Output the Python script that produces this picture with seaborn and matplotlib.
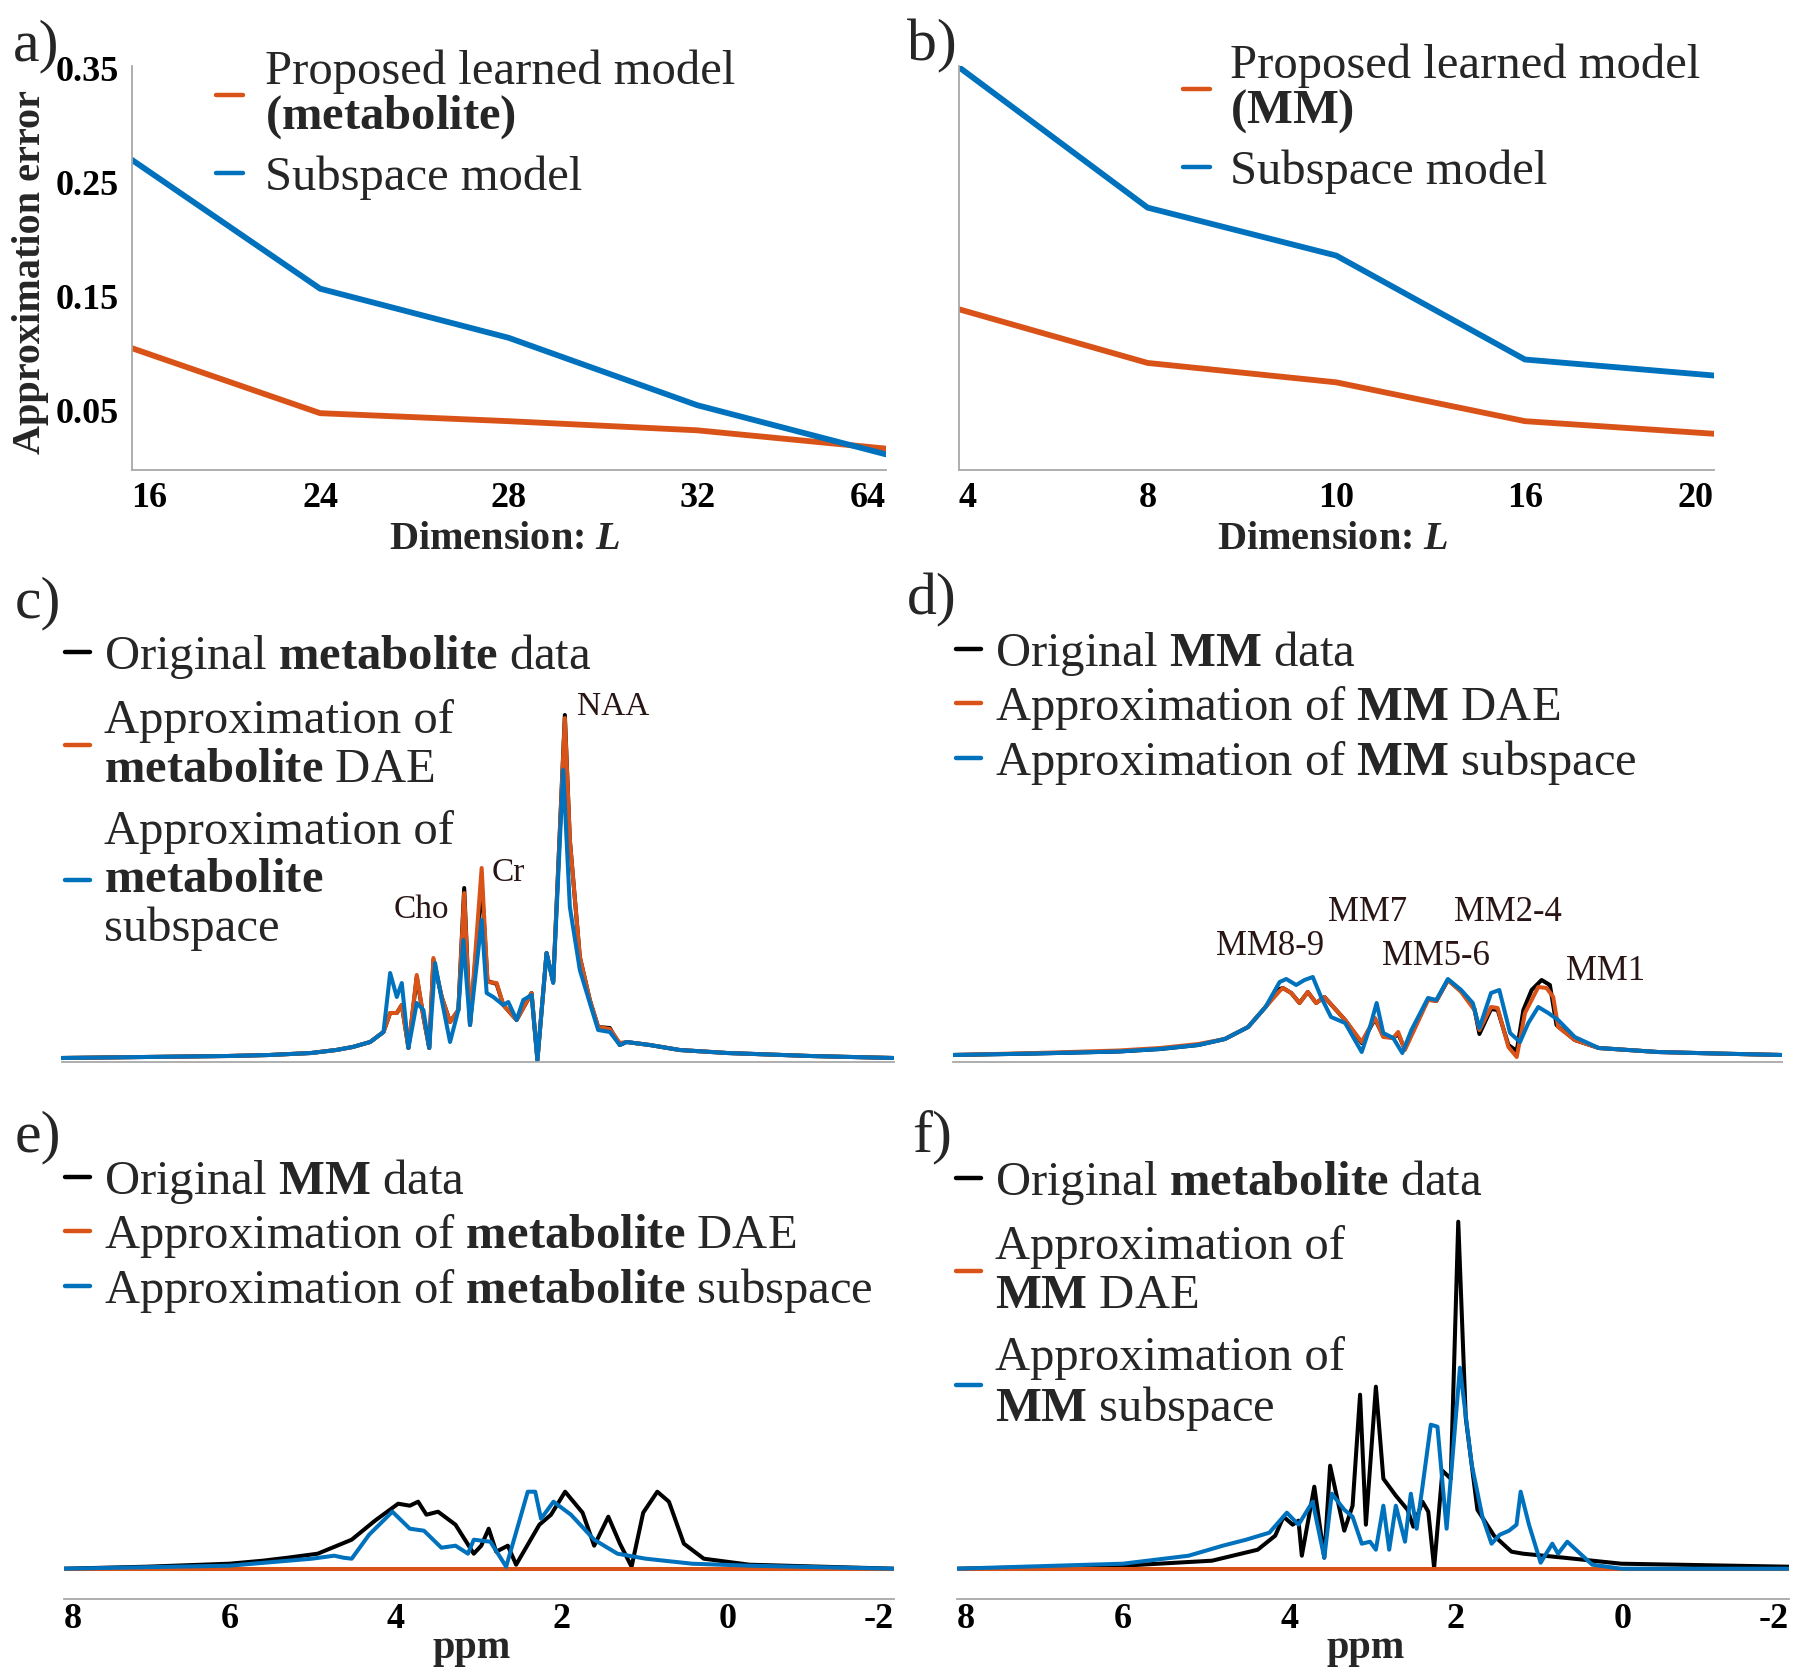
import matplotlib
matplotlib.use("Agg")
import matplotlib.pyplot as plt
import seaborn as sns
import pandas as pd

ORANGE = "#D95319"
BLUE = "#0072BD"
BLACK = "#000000"
GREY = "#a8a8a8"
ANNOT = "#2a1515"

# ---- a) / b) approximation error vs dimension L
dims_a = ["16", "24", "28", "32", "64"]
err_a_dae = [0.105, 0.048, 0.041, 0.033, 0.017]
err_a_sub = [0.270, 0.157, 0.114, 0.055, 0.012]

dims_b = ["4", "8", "10", "16", "20"]
err_b_dae = [0.139, 0.092, 0.075, 0.041, 0.030]
err_b_sub = [0.351, 0.228, 0.186, 0.095, 0.081]

err_ticks = [0.05, 0.15, 0.25, 0.35]
err_tick_labels = ["0.05", "0.15", "0.25", "0.35"]

# ---- c) metabolite spectrum (ppm, intensity a.u.)
c_ppm_orig = [8.0, 7.0, 6.0, 5.5, 5.0, 4.7, 4.5, 4.29, 4.13, 4.05, 3.97, 3.91, 3.83, 3.73, 3.65, 3.58,
              3.53, 3.43, 3.33, 3.23, 3.16, 3.09, 2.95, 2.88, 2.77, 2.69, 2.53, 2.35, 2.28, 2.17, 2.09,
              1.95, 1.89, 1.77, 1.65, 1.55, 1.41, 1.29, 1.21, 0.93, 0.57, 0.0, -1.0, -2.0]
c_orig = [1, 2, 3, 4, 6, 9, 12, 17, 27, 46, 46, 54, 11, 82, 42, 11, 99, 62, 37, 49, 171, 34, 176, 78,
          75, 54, 39, 66, -1, 106, 77, 344, 219, 102, 59, 32, 31, 14, 17, 14, 9, 6, 3, 1]
c_ppm_dae = [8.0, 7.0, 6.0, 5.5, 5.0, 4.7, 4.5, 4.29, 4.13, 4.05, 3.97, 3.91, 3.83, 3.73, 3.65, 3.58,
             3.53, 3.43, 3.33, 3.23, 3.16, 3.09, 2.95, 2.88, 2.77, 2.69, 2.53, 2.35, 2.28, 2.17, 2.09,
             1.95, 1.89, 1.77, 1.65, 1.55, 1.41, 1.29, 1.21, 0.93, 0.57, 0.0, -1.0, -2.0]
c_dae = [1, 2, 3, 4, 6, 9, 12, 17, 27, 46, 46, 54, 11, 84, 42, 11, 101, 62, 37, 49, 166, 34, 191, 77,
         76, 54, 39, 66, -1, 106, 77, 341, 219, 102, 59, 32, 30, 16, 17, 14, 9, 6, 3, 1]
c_ppm_sub = [8.0, 7.0, 6.0, 5.5, 5.0, 4.7, 4.5, 4.29, 4.13, 4.05, 3.97, 3.91, 3.83, 3.73, 3.65, 3.58,
             3.51, 3.43, 3.33, 3.23, 3.17, 3.09, 2.95, 2.89, 2.81, 2.69, 2.63, 2.53, 2.45, 2.35, 2.28,
             2.17, 2.09, 1.97, 1.89, 1.77, 1.65, 1.55, 1.41, 1.29, 1.21, 0.93, 0.57, 0.0, -1.0, -2.0]
c_sub = [1, 2, 3, 4, 6, 9, 12, 17, 27, 86, 62, 76, 11, 56, 49, 11, 96, 59, 17, 49, 119, 34, 139, 66,
         62, 54, 57, 39, 59, 64, -1, 106, 76, 289, 152, 89, 56, 29, 27, 14, 17, 14, 9, 6, 3, 1]
c_peaks = ["Cho", "Cr", "NAA"]
c_peak_ppm = [3.67, 2.63, 1.37]
c_peak_h = [149, 186, 352]

# ---- d) MM spectrum
d_ppm_orig = [8.0, 7.0, 6.0, 5.5, 5.04, 4.72, 4.44, 4.23, 4.06, 4.02, 3.92, 3.82, 3.72, 3.62, 3.52,
              3.27, 3.07, 2.91, 2.81, 2.69, 2.63, 2.55, 2.27, 2.17, 2.03, 1.87, 1.71, 1.65, 1.51, 1.43,
              1.30, 1.20, 1.12, 1.02, 0.90, 0.80, 0.72, 0.50, 0.21, -0.5, -1.2, -2.0]
d_orig = [0, 1.5, 3.5, 6, 10, 16, 28, 48, 66, 67, 62, 52, 63, 52, 58, 35, 12, 36, 19, 17, 21, 6, 56,
          54, 75, 64, 46, 21, 46, 45, 10, 4, 45, 65, 75, 70, 30, 15, 7, 3, 1.5, 0]
d_ppm_dae = [8.0, 7.0, 6.0, 5.5, 5.04, 4.72, 4.44, 4.23, 4.06, 4.02, 3.92, 3.82, 3.72, 3.62, 3.52,
             3.27, 3.07, 2.91, 2.81, 2.69, 2.63, 2.55, 2.27, 2.17, 2.03, 1.87, 1.71, 1.65, 1.51, 1.43,
             1.30, 1.20, 1.10, 0.94, 0.84, 0.76, 0.70, 0.50, 0.21, -0.5, -1.2, -2.0]
d_dae = [0, 2, 4.5, 7, 11, 16, 28, 48, 64, 67, 62, 52, 63, 52, 58, 35, 13, 37, 18, 17, 23, 5, 55, 54,
         75, 63, 45, 25, 48, 47, 8, -2, 42, 68, 67, 58, 28, 15, 7, 3, 1.5, 0]
d_ppm_sub = [8.0, 7.0, 6.0, 5.5, 5.04, 4.72, 4.44, 4.23, 4.06, 3.98, 3.86, 3.76, 3.66, 3.56, 3.44,
             3.27, 3.07, 2.97, 2.89, 2.81, 2.69, 2.58, 2.47, 2.27, 2.17, 2.03, 1.87, 1.73, 1.65, 1.51,
             1.41, 1.28, 1.16, 1.06, 0.94, 0.82, 0.70, 0.50, 0.21, -0.5, -1.2, -2.0]
d_sub = [0, 1.5, 3.5, 6, 10, 16, 28, 48, 73, 76, 70, 75, 78, 58, 38, 32, 3, 28, 52, 22, 17, 2, 25, 57,
         55, 76, 65, 52, 27, 62, 65, 22, 13, 32, 48, 42, 35, 18, 7, 3, 1.5, 0]
d_peaks = ["MM8-9", "MM7", "MM5-6", "MM2-4", "MM1"]
d_peak_ppm = [4.18, 3.00, 2.17, 1.31, 0.13]
d_peak_h = [108, 142, 98, 142, 83]

# ---- e) MM data through metabolite models
e_ppm_orig = [8.0, 7.0, 6.0, 5.6, 5.3, 4.94, 4.53, 4.25, 3.97, 3.83, 3.73, 3.63, 3.49, 3.28, 3.06, 2.97,
              2.88, 2.79, 2.65, 2.55, 2.27, 2.13, 1.96, 1.75, 1.61, 1.44, 1.30, 1.16, 1.02, 0.85, 0.71,
              0.53, 0.29, -0.26, -2.0]
e_orig = [0, 2, 5, 8, 11, 15, 29, 48, 65, 63, 67, 54, 57, 44, 15, 23, 40, 17, 23, 4, 44, 54, 77, 56,
          23, 52, 25, 2, 56, 77, 67, 25, 10, 4, 0]
e_ppm_dae = [8.0, -2.0]
e_dae = [0, 0]
e_ppm_sub = [8.0, 6.0, 5.01, 4.74, 4.63, 4.53, 4.32, 4.04, 3.83, 3.66, 3.45, 3.28, 3.13, 3.06, 2.86,
             2.67, 2.51, 2.41, 2.32, 2.25, 2.10, 1.89, 1.61, 1.33, 0.99, 0.43, -0.26, -2.0]
e_sub = [0, 3, 10, 13, 11, 10, 34, 57, 40, 38, 21, 23, 15, 29, 27, 2, 48, 77, 77, 50, 67, 54, 29, 15,
         10, 5, 3, 0]

# ---- f) metabolite data through MM models
f_ppm_orig = [8.0, 6.0, 4.93, 4.38, 4.17, 4.07, 3.96, 3.89, 3.85, 3.70, 3.58, 3.51, 3.34, 3.24, 3.15,
              3.08, 2.96, 2.87, 2.72, 2.58, 2.51, 2.40, 2.33, 2.26, 2.16, 2.06, 1.97, 1.88, 1.74, 1.54,
              1.33, 1.19, 0.70, 0.01, -2.0]
f_orig = [0, 3, 8, 19, 33, 52, 44, 48, 13, 82, 11, 103, 38, 63, 174, 44, 182, 90, 73, 59, 42, 67, 57,
          1, 98, 90, 347, 151, 59, 33, 17, 15, 11, 5, 2]
f_ppm_dae = [8.0, -2.0]
f_dae = [0, 0]
f_ppm_sub = [8.0, 6.0, 5.21, 4.80, 4.52, 4.24, 4.03, 3.89, 3.72, 3.58, 3.49, 3.34, 3.24, 3.13, 3.03,
             2.96, 2.87, 2.80, 2.72, 2.61, 2.54, 2.47, 2.40, 2.30, 2.22, 2.11, 1.95, 1.81, 1.68, 1.57,
             1.47, 1.36, 1.27, 1.22, 1.12, 0.98, 0.84, 0.77, 0.66, 0.36, 0.01, -2.0]
f_sub = [0, 5, 13, 23, 29, 36, 56, 44, 67, 11, 75, 59, 52, 25, 27, 19, 63, 19, 63, 27, 75, 40, 82,
         144, 142, 40, 201, 105, 52, 25, 34, 38, 44, 77, 44, 6, 25, 15, 27, 4, 0, 0]

ppm_ticks = [8, 6, 4, 2, 0, -2]
ppm_tick_labels = ["8", "6", "4", "2", "0", "-2"]

sns.set_style("white")
plt.rcParams["font.family"] = ["Liberation Serif", "DejaVu Serif"]
plt.rcParams["mathtext.fontset"] = "custom"
plt.rcParams["mathtext.rm"] = "Liberation Serif"
plt.rcParams["mathtext.bf"] = "Liberation Serif:bold"
plt.rcParams["mathtext.it"] = "Liberation Serif:italic"
plt.rcParams["mathtext.bfit"] = "Liberation Serif:bold:italic"

W, H = 1800, 1678
fig = plt.figure(figsize=(W / 100, H / 100), dpi=100)


def box(left, right, top, bottom):
    return [left / W, 1 - bottom / H, (right - left) / W, (bottom - top) / H]


LEG_FS = 35
TICK_FS = 26
LABEL_FS = 29


def style_axis(ax, left_spine, pad):
    for s in ["top", "right"]:
        ax.spines[s].set_visible(False)
    ax.spines["left"].set_visible(left_spine)
    for s in ["left", "bottom"]:
        ax.spines[s].set_color(GREY)
        ax.spines[s].set_linewidth(1.3)
    ax.tick_params(direction="in", length=7, width=1.3, color=GREY, labelcolor="black",
                   labelsize=TICK_FS, pad=pad)
    ax.set_xlabel("")
    ax.set_ylabel("")
    ax.grid(False)


def edge_align(labels):
    labels[0].set_ha("left")
    labels[-1].set_ha("right")


def add_legend(ax, x, y, hlen, hpad, lspace, linesp):
    leg = ax.legend(loc="upper left", bbox_to_anchor=(x / W, 1 - y / H), bbox_transform=fig.transFigure,
                    frameon=False, fontsize=LEG_FS, borderpad=0, borderaxespad=0,
                    handlelength=hlen, handletextpad=hpad, labelspacing=lspace)
    for ln in leg.get_lines():
        ln.set_linewidth(3.2)
    for t in leg.get_texts():
        t.set_linespacing(linesp)
    return leg


# ---------- a) and b)
def error_panel(pos, dims, dae, sub, dae_label, show_ylabels, leg_xy, hpad):
    ax = fig.add_axes(pos)
    df = pd.DataFrame({"L": dims, "dae": dae, "sub": sub})
    sns.lineplot(data=df, x="L", y="dae", color=ORANGE, linewidth=4.2, ax=ax, label=dae_label,
                 sort=False, estimator=None)
    sns.lineplot(data=df, x="L", y="sub", color=BLUE, linewidth=4.2, ax=ax, label="Subspace model",
                 sort=False, estimator=None)
    style_axis(ax, True, 9)
    ax.set_xlim(0, len(dims) - 1)
    ax.set_ylim(-0.0014, 0.352)
    ax.set_xticks(range(len(dims)))
    ax.set_xticklabels(dims, fontweight="bold")
    edge_align(ax.get_xticklabels())
    ax.set_yticks(err_ticks)
    if show_ylabels:
        ax.set_yticklabels(err_tick_labels, fontweight="bold")
        ax.set_ylabel("Approximation error", fontsize=LABEL_FS, fontweight="bold")
        ax.yaxis.set_label_coords(-0.109, 0.49)
    else:
        ax.set_yticklabels([])
    ax.set_xlabel(r"Dimension: $\mathbfit{L}$", fontsize=LABEL_FS, fontweight="bold")
    ax.xaxis.set_label_coords(0.495, -0.128)
    add_legend(ax, leg_xy[0], leg_xy[1], 0.55, hpad, 0.3, 0.95)
    return ax


error_panel(box(131.6, 885.7, 66, 469.6), dims_a, err_a_dae, err_a_sub,
            "Proposed learned model\n" + r"$\mathbf{(metabolite)}$", True, (216, 50), 0.45)
error_panel(box(958.9, 1713.6, 66, 469.6), dims_b, err_b_dae, err_b_sub,
            "Proposed learned model\n" + r"$\mathbf{(MM)}$", False, (1183, 44), 0.42)


# ---------- c) to f) spectra
def spectrum_panel(pos, ylim, curves, labels, leg_xy, lspace, tick_labels):
    ax = fig.add_axes(pos)
    for (xs, ys, col), lab in zip(curves, labels):
        sns.lineplot(x=xs, y=ys, color=col, linewidth=2.9, ax=ax, label=lab, sort=False,
                     estimator=None)
    style_axis(ax, False, 3)
    ax.set_xlim(8, -2)
    ax.set_ylim(*ylim)
    ax.set_yticks([])
    ax.set_xticks(ppm_ticks)
    if tick_labels:
        ax.set_xticklabels(ppm_tick_labels, fontweight="bold")
        edge_align(ax.get_xticklabels())
        ax.set_xlabel("ppm", fontsize=LABEL_FS, fontweight="bold")
        ax.xaxis.set_label_coords(0.492, -0.072)
    else:
        ax.set_xticklabels([])
    add_legend(ax, leg_xy[0], leg_xy[1], 0.52, 0.28, lspace, 1.12)
    return ax


mb = r"$\mathbf{metabolite}$"
mm = r"$\mathbf{MM}$"

ax_c = spectrum_panel(box(61.5, 893.5, 625, 1062), (-3, 434),
                      [(c_ppm_orig, c_orig, BLACK), (c_ppm_dae, c_dae, ORANGE), (c_ppm_sub, c_sub, BLUE)],
                      ["Original " + mb + " data", "Approximation of\n" + mb + " DAE",
                       "Approximation of\n" + mb + "\nsubspace"], (65, 632), 0.38, False)
for name, px, ph in zip(c_peaks, c_peak_ppm, c_peak_h):
    ax_c.text(px, ph, name, fontsize=24, color=ANNOT, ha="center", va="center")

ax_d = spectrum_panel(box(953, 1782, 625, 1061.7), (-6.7, 430),
                      [(d_ppm_orig, d_orig, BLACK), (d_ppm_dae, d_dae, ORANGE), (d_ppm_sub, d_sub, BLUE)],
                      ["Original " + mm + " data", "Approximation of " + mm + " DAE",
                       "Approximation of " + mm + " subspace"], (956, 629), 0.12, False)
for name, px, ph in zip(d_peaks, d_peak_ppm, d_peak_h):
    ax_d.text(px, ph, name, fontsize=25, color=ANNOT, ha="center", va="center")

spectrum_panel(box(63.5, 894, 1165, 1599), (-30.3, 403.7),
               [(e_ppm_orig, e_orig, BLACK), (e_ppm_dae, e_dae, ORANGE), (e_ppm_sub, e_sub, BLUE)],
               ["Original " + mm + " data", "Approximation of " + mb + " DAE",
                "Approximation of " + mb + " subspace"], (65, 1157), 0.12, True)

spectrum_panel(box(956.5, 1788.6, 1165, 1599), (-30.3, 403.7),
               [(f_ppm_orig, f_orig, BLACK), (f_ppm_dae, f_dae, ORANGE), (f_ppm_sub, f_sub, BLUE)],
               ["Original " + mb + " data", "Approximation of\n" + mm + " DAE",
                "Approximation of\n" + mm + " subspace"], (956, 1158), 0.38, True)

# panel letters
for letter, lx, ly in [("a)", 36, 46), ("b)", 932, 46), ("c)", 38, 603),
                       ("d)", 932, 600), ("e)", 38, 1137), ("f)", 932, 1137)]:
    fig.text(lx / W, 1 - ly / H, letter, fontsize=43, ha="center", va="center")

fig.savefig("out.png", dpi=100)
